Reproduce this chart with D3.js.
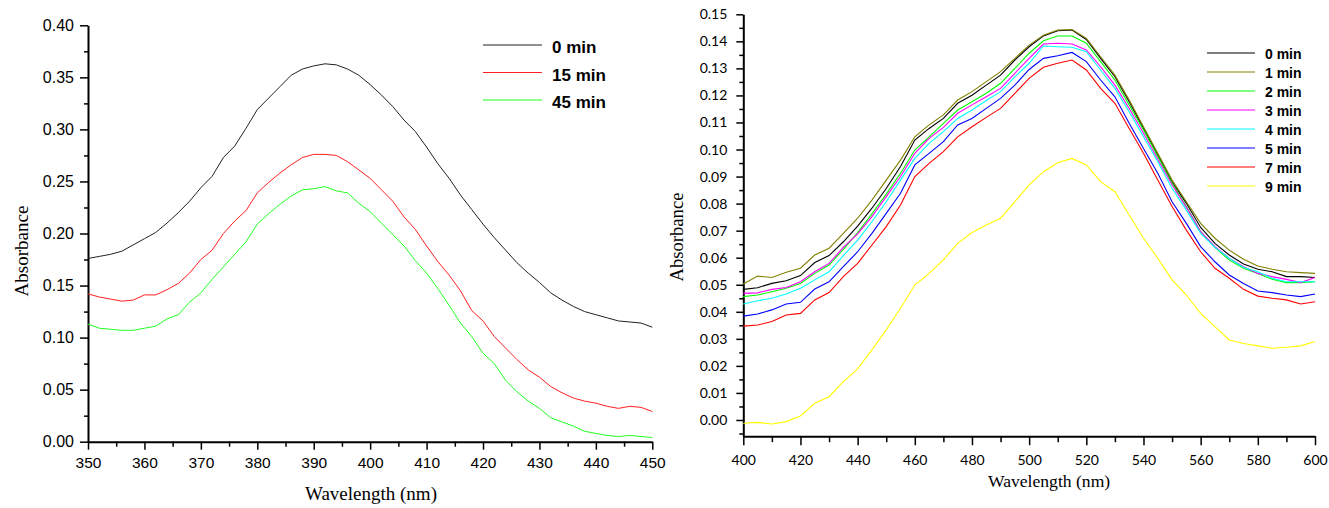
<!DOCTYPE html>
<html>
<head>
<meta charset="utf-8">
<script src="https://cdn.jsdelivr.net/npm/d3@7"></script>
<style>
	body { margin: 0; background: #fff; }
	svg { display: block; }
</style>
</head>
<body>
<svg id="chart" width="1329" height="508"></svg>
<script>
// ---- left panel: 350-450 nm, 2 nm steps ----
var leftWavelengths = [350,352,354,356,358,360,362,364,366,368,370,372,374,376,378,380,382,384,386,388,390,
	392,394,396,398,400,402,404,406,408,410,412,414,416,418,420,422,424,426,428,430,432,434,436,438,440,
	442,444,446,448,450];
var left0min = [0.176,0.178,0.180,0.183,0.189,0.195,0.201,0.210,0.220,0.231,0.244,0.255,0.273,0.284,0.301,
	0.319,0.330,0.341,0.352,0.358,0.361,0.363,0.362,0.358,0.352,0.343,0.333,0.322,0.309,0.298,0.283,0.267,
	0.253,0.237,0.223,0.209,0.196,0.184,0.172,0.162,0.153,0.143,0.136,0.130,0.125,0.122,0.119,0.116,0.115,
	0.114,0.110];
var left15min = [0.142,0.139,0.137,0.135,0.136,0.141,0.141,0.146,0.152,0.162,0.175,0.184,0.200,0.212,0.222,
	0.239,0.249,0.258,0.266,0.273,0.276,0.276,0.275,0.269,0.261,0.253,0.242,0.231,0.216,0.204,0.188,0.173,
	0.160,0.145,0.126,0.116,0.101,0.090,0.079,0.069,0.062,0.053,0.047,0.042,0.039,0.037,0.034,0.032,0.034,
	0.033,0.029];
var left45min = [0.113,0.109,0.108,0.107,0.107,0.109,0.111,0.118,0.122,0.134,0.143,0.156,0.168,0.180,0.192,
	0.209,0.219,0.228,0.236,0.242,0.243,0.245,0.241,0.239,0.229,0.221,0.210,0.199,0.188,0.174,0.162,0.147,
	0.131,0.114,0.101,0.085,0.075,0.059,0.048,0.039,0.032,0.023,0.019,0.015,0.010,0.008,0.006,0.005,0.006,
	0.005,0.004];
var leftNames = ["0 min", "15 min", "45 min"];
var leftColors = ["#222222", "#ff2020", "#20ff20"];
var leftXTicks = [350,360,370,380,390,400,410,420,430,440,450];
var leftYTicks = [0,0.05,0.10,0.15,0.20,0.25,0.30,0.35,0.40];

// ---- right panel: 400-600 nm, 5 nm steps ----
var rightWavelengths = [400,405,410,415,420,425,430,435,440,445,450,455,460,465,470,475,480,485,490,495,500,
	505,510,515,520,525,530,535,540,545,550,555,560,565,570,575,580,585,590,595,600];
var right0min = [.0483,.0489,.0505,.0515,.0534,.0582,.0608,.0659,.0717,.0783,.0856,.0937,.1035,.1078,.1115,
	.1171,.1201,.1238,.1275,.1331,.1380,.1420,.1439,.1442,.1407,.1337,.1269,.1177,.1078,.0980,.0881,.0801,
	.0712,.0653,.0610,.0577,.0557,.0548,.0530,.0530,.0527];
var right1min = [.0503,.0532,.0527,.0546,.0561,.0610,.0635,.0690,.0746,.0813,.0887,.0961,.1047,.1091,.1128,
	.1183,.1214,.1251,.1288,.1337,.1386,.1423,.1442,.1444,.1411,.1343,.1275,.1183,.1084,.0986,.0887,.0807,
	.0727,.0672,.0628,.0594,.0569,.0557,.0548,.0545,.0542];
var right2min = [.0456,.0462,.0474,.0487,.0505,.0542,.0573,.0631,.0693,.0762,.0835,.0912,.0998,.1047,.1097,
	.1146,.1177,.1208,.1245,.1300,.1356,.1402,.1420,.1420,.1393,.1325,.1257,.1165,.1072,.0974,.0875,.0789,
	.0696,.0638,.0591,.0561,.0542,.0520,.0508,.0508,.0511];
var right3min = [.0468,.0470,.0483,.0490,.0511,.0548,.0579,.0638,.0688,.0752,.0826,.0900,.0986,.1041,.1082,
	.1134,.1165,.1195,.1226,.1282,.1337,.1390,.1393,.1390,.1368,.1306,.1238,.1152,.1060,.0964,.0869,.0786,
	.0696,.0641,.0598,.0567,.0542,.0530,.0520,.0508,.0527];
var right4min = [.0429,.0441,.0450,.0466,.0487,.0518,.0548,.0608,.0665,.0733,.0807,.0887,.0967,.1023,.1066,
	.1115,.1146,.1181,.1214,.1269,.1319,.1383,.1380,.1378,.1362,.1294,.1226,.1140,.1047,.0955,.0856,.0776,
	.0690,.0638,.0598,.0564,.0548,.0524,.0511,.0511,.0511];
var right5min = [.0384,.0392,.0407,.0429,.0435,.0484,.0511,.0567,.0622,.0690,.0764,.0838,.0943,.0986,.1029,
	.1091,.1115,.1152,.1189,.1238,.1296,.1337,.1347,.1359,.1325,.1257,.1195,.1097,.1004,.0912,.0807,.0727,
	.0641,.0585,.0536,.0505,.0477,.0471,.0462,.0456,.0466];
var right7min = [.0347,.0351,.0364,.0388,.0394,.0444,.0471,.0530,.0579,.0647,.0715,.0795,.0900,.0949,.0992,
	.1047,.1084,.1119,.1152,.1208,.1263,.1304,.1319,.1331,.1294,.1226,.1171,.1078,.0986,.0887,.0789,.0702,
	.0622,.0561,.0524,.0483,.0458,.0450,.0444,.0429,.0437];
var right9min = [-.0012,-.0009,-.0015,-.0006,.0015,.0062,.0086,.0142,.0189,.0259,.0333,.0413,.0499,.0542,
	.0592,.0653,.0693,.0721,.0746,.0807,.0869,.0918,.0951,.0967,.0943,.0881,.0844,.0758,.0672,.0598,.0518,
	.0462,.0394,.0345,.0296,.0283,.0274,.0265,.0269,.0274,.0290];
var rightNames = ["0 min", "1 min", "2 min", "3 min", "4 min", "5 min", "7 min", "9 min"];
var rightColors = ["#000000", "#808000", "#00ff00", "#ff00ff", "#00ffff", "#0000ff", "#ff0000", "#ffff00"];
var rightXTicks = [400,420,440,460,480,500,520,540,560,580,600];
var rightYTicks = [0,.01,.02,.03,.04,.05,.06,.07,.08,.09,.10,.11,.12,.13,.14,.15];

var svg = d3.select("#chart");

function ticksBetween(a, b, step) {
	var out = [];
	for (var v = a; v <= b + 1e-9; v += step) out.push(+v.toFixed(4));
	return out;
}

function drawAxes(g, x, y, o) {
	// minor ticks first, majors + labels over them
	g.append("g")
		.attr("transform", "translate(0," + y.range()[0] + ")")
		.call(d3.axisBottom(x).tickValues(o.xMinor).tickSize(o.xMinorLen).tickFormat("").tickSizeOuter(0))
		.call(function(s) { s.select(".domain").remove(); });
	g.append("g")
		.attr("transform", "translate(" + x.range()[0] + ",0)")
		.call(d3.axisLeft(y).tickValues(o.yMinor).tickSize(o.yMinorLen).tickFormat("").tickSizeOuter(0))
		.call(function(s) { s.select(".domain").remove(); });

	var xa = g.append("g")
		.attr("transform", "translate(0," + y.range()[0] + ")")
		.call(d3.axisBottom(x).tickValues(o.xMajor).tickSize(o.xMajorLen).tickPadding(o.xPad).tickSizeOuter(0));
	var ya = g.append("g")
		.attr("transform", "translate(" + x.range()[0] + ",0)")
		.call(d3.axisLeft(y).tickValues(o.yMajor).tickSize(o.yMajorLen).tickPadding(o.yPad)
			.tickFormat(d3.format(".2f")).tickSizeOuter(0));

	g.selectAll(".tick line").attr("stroke", "#000").attr("stroke-width", 1.5);
	[xa, ya].forEach(function(a) {
		a.select(".domain").attr("stroke", "#000").attr("stroke-width", 2);
	});
	xa.selectAll("text").attr("fill", "#000").style("font-family", o.font).style("font-size", o.xFont + "px");
	ya.selectAll("text").attr("fill", "#000").style("font-family", o.font).style("font-size", o.yFont + "px");
}

// ---------- left panel ----------
var lx = d3.scaleLinear().domain([350, 450]).range([88, 652.3]);
var ly = d3.scaleLinear().domain([0, 0.40]).range([441.7, 25.3]);
var left = svg.append("g");

drawAxes(left, lx, ly, {
	xMajor: leftXTicks, xMinor: ticksBetween(355, 445, 10), xMajorLen: 8, xMinorLen: 5, xPad: 7,
	yMajor: leftYTicks, yMinor: ticksBetween(0.025, 0.375, 0.05), yMajorLen: 8, yMinorLen: 4, yPad: 6,
	font: "'Liberation Sans', Arial, sans-serif", xFont: 15.5, yFont: 16
});

var leftSeries = [left0min, left15min, left45min];
var lline = d3.line()
	.x(function(d, i) { return lx(leftWavelengths[i]); })
	.y(function(d) { return ly(d); });

left.selectAll("path.curve")
	.data(leftSeries)
	.enter()
	.append("path")
	.attr("class", "curve")
	.attr("fill", "none")
	.attr("stroke", function(d, i) { return leftColors[i]; })
	.attr("stroke-width", 1)
	.attr("d", lline);

var lleg = left.append("g").selectAll("g")
	.data(leftNames)
	.enter()
	.append("g")
	.attr("transform", function(d, i) { return "translate(0," + (45 + i * 27.5) + ")"; });
lleg.append("line")
	.attr("x1", 483).attr("x2", 542)
	.attr("stroke", function(d, i) { return leftColors[i]; })
	.attr("stroke-width", 1.2);
lleg.append("text")
	.attr("x", 552).attr("y", 8)
	.style("font-family", "'Liberation Sans', Arial, sans-serif")
	.style("font-weight", "bold")
	.style("font-size", "17px")
	.text(function(d) { return d; });

left.append("text")
	.attr("transform", "translate(28,251) rotate(-90)")
	.attr("text-anchor", "middle")
	.style("font-family", "'Liberation Serif', 'Times New Roman', serif")
	.style("font-size", "19px")
	.text("Absorbance");
left.append("text")
	.attr("x", 371).attr("y", 500)
	.attr("text-anchor", "middle")
	.style("font-family", "'Liberation Serif', 'Times New Roman', serif")
	.style("font-size", "19px")
	.text("Wavelength (nm)");

// ---------- right panel ----------
var rx = d3.scaleLinear().domain([400, 600]).range([743.3, 1315]);
var ry = d3.scaleLinear().domain([-0.006, 0.15]).range([436.2, 14.3]);
var right = svg.append("g");

drawAxes(right, rx, ry, {
	xMajor: rightXTicks, xMinor: ticksBetween(410, 590, 20), xMajorLen: 9, xMinorLen: 6, xPad: 10,
	yMajor: rightYTicks, yMinor: ticksBetween(-0.005, 0.145, 0.01), yMajorLen: 7, yMinorLen: 4, yPad: 9,
	font: "Lato, 'Open Sans', sans-serif", xFont: 14, yFont: 14
});

var rightSeries = [right0min, right1min, right2min, right3min, right4min, right5min, right7min, right9min];
var rline = d3.line()
	.x(function(d, i) { return rx(rightWavelengths[i]); })
	.y(function(d) { return ry(d); });

right.selectAll("path.curve")
	.data(rightSeries)
	.enter()
	.append("path")
	.attr("class", "curve")
	.attr("fill", "none")
	.attr("stroke", function(d, i) { return rightColors[i]; })
	.attr("stroke-width", 1.1)
	.attr("d", rline);

var rleg = right.append("g").selectAll("g")
	.data(rightNames)
	.enter()
	.append("g")
	.attr("transform", function(d, i) { return "translate(0," + (53 + i * 19) + ")"; });
rleg.append("line")
	.attr("x1", 1207).attr("x2", 1255)
	.attr("stroke", function(d, i) { return rightColors[i]; })
	.attr("stroke-width", 1.2);
rleg.append("text")
	.attr("x", 1265).attr("y", 6)
	.style("font-family", "'Liberation Sans', Arial, sans-serif")
	.style("font-weight", "bold")
	.style("font-size", "14px")
	.text(function(d) { return d; });

right.append("text")
	.attr("transform", "translate(683,237) rotate(-90)")
	.attr("text-anchor", "middle")
	.style("font-family", "'Liberation Serif', 'Times New Roman', serif")
	.style("font-size", "18.6px")
	.text("Absorbance");
right.append("text")
	.attr("x", 988).attr("y", 487)
	.style("font-family", "'Liberation Serif', 'Times New Roman', serif")
	.style("font-size", "17.6px")
	.text("Wavelength (nm)");
</script>
</body>
</html>
